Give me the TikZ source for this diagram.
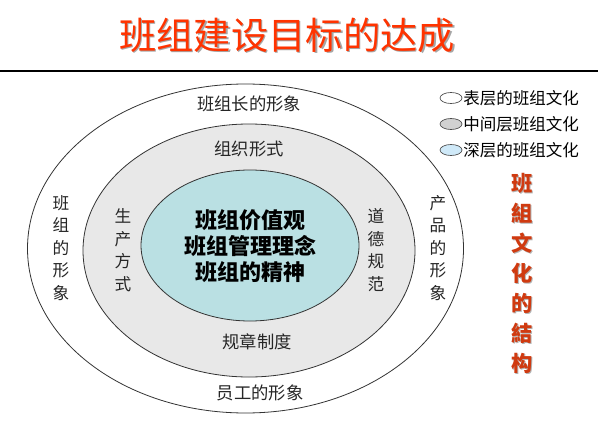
\documentclass[tikz,border=0pt]{standalone}
\usepackage{fontspec}
\setmainfont{Noto Sans CJK SC}
\usepackage{tikz}
\usetikzlibrary{positioning}
\usepackage{xcolor}
\definecolor{titlered}{HTML}{FF3300}
\definecolor{ringgray}{HTML}{E8E8E8}
\definecolor{coreteal}{HTML}{BAE0E3}
\definecolor{keyblue}{HTML}{CFE9F8}
\definecolor{brickred}{HTML}{D03A10}

\begin{document}
\begin{tikzpicture}[x=0.75pt,y=-0.75pt,
  ring/.style={draw=black!80,line width=0.6pt},
  lbl/.style={font=\fontsize{13}{16}\selectfont,text=black!85,inner sep=0pt},
  vlbl/.style={font=\fontsize{12.5}{16.9}\selectfont,text=black!85,align=center,inner sep=0pt},
  keyoval/.style={draw=black!70,line width=0.5pt},
  keytxt/.style={font=\fontsize{12.4}{14}\selectfont,anchor=west,inner sep=0pt}]
\useasboundingbox (0,0) rectangle (598,424);
\node[text=black!35,font=\fontsize{28}{32}\selectfont] (titleshade) at (288.5,36.5) {班组建设目标的达成};
\node[text=titlered,font=\fontsize{28}{32}\selectfont] (title) at (287,35) {班组建设目标的达成};
\draw[line width=0.9pt] (0,71) -- (598,71);
% three layers
\draw[ring,fill=white] (245.5,248.5) ellipse [x radius=218,y radius=164.5];
\draw[ring,fill=ringgray] (249,250.5) ellipse [x radius=166,y radius=126.5];
\draw[ring,fill=coreteal] (250,245.5) ellipse [x radius=109,y radius=75.5];
% outer layer
\node[lbl] (leader) at (249,104) {班组长的形象};
\node[lbl] (staff) at (260,393) {员工的形象};
\node[vlbl] (team) at (61,248) {班\\组\\的\\形\\象};
\node[vlbl] (product) at (438,248) {产\\品\\的\\形\\象};
% middle layer
\node[lbl] (orgform) at (249,149) {组织形式};
\node[lbl] (rules) at (257,342) {规章制度};
\node[vlbl] (prodway) at (123,250) {生\\产\\方\\式};
\node[vlbl] (ethics) at (376,250) {道\\德\\规\\范};
% core
\node[font=\fontsize{16.5}{19.5}\selectfont\bfseries,align=center] (core) at (250,246) {班组价值观\\班组管理理念\\班组的精神};
% key
\draw[keyoval,fill=white] (451,98) ellipse [x radius=11,y radius=5.5];
\node[keytxt] (keyouter) at (463,98) {表层的班组文化};
\draw[keyoval,fill=black!18] (451,124) ellipse [x radius=11,y radius=5.5];
\node[keytxt] (keymiddle) at (463,124) {中间层班组文化};
\draw[keyoval,fill=keyblue] (451,150) ellipse [x radius=11,y radius=5.5];
\node[keytxt] (keyinner) at (463,150) {深层的班组文化};
% side caption
\node[text=black!30,font=\fontsize{16}{22.5}\selectfont\bfseries,align=center,inner sep=0pt] (captionshade) at (523.5,274.5) {班\\組\\文\\化\\的\\結\\构};
\node[text=brickred,font=\fontsize{16}{22.5}\selectfont\bfseries,align=center,inner sep=0pt] (caption) at (522,273) {班\\組\\文\\化\\的\\結\\构};
\end{tikzpicture}
\end{document}
